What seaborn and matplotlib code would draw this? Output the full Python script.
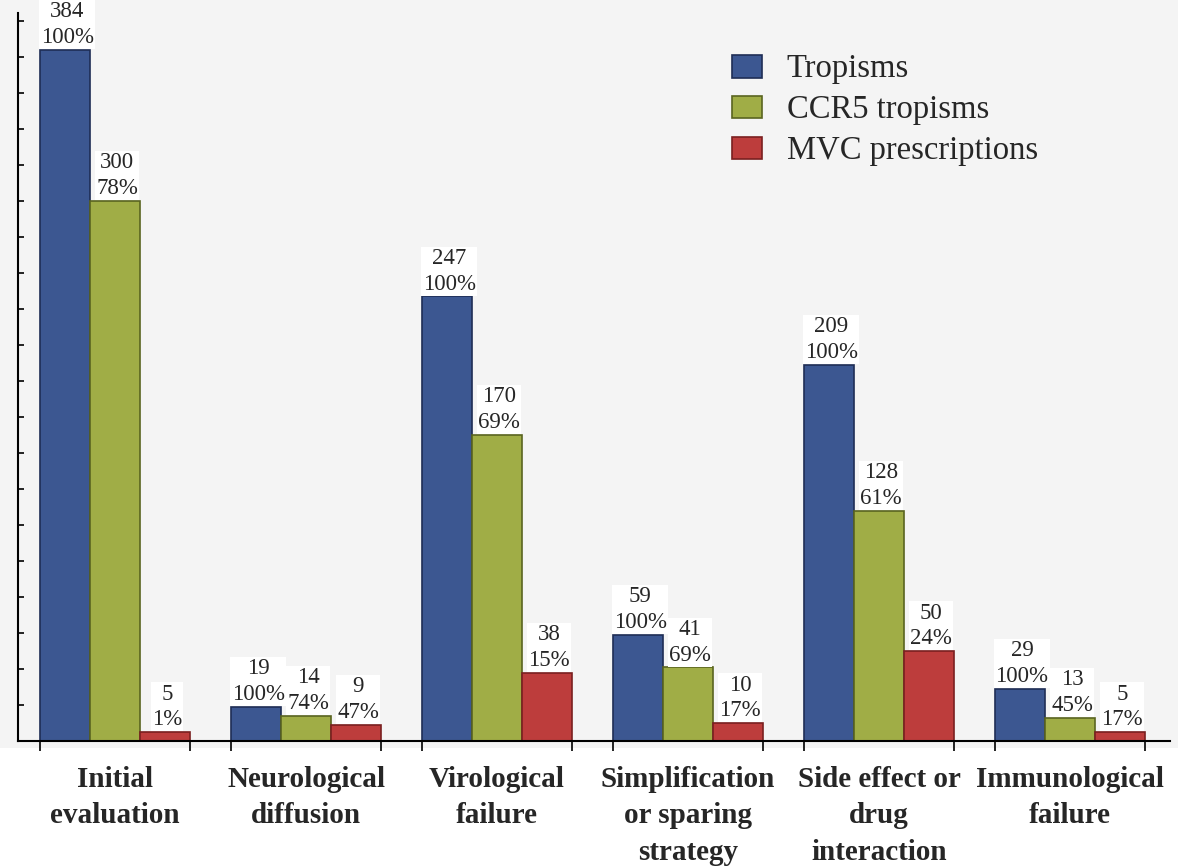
import matplotlib
matplotlib.use("Agg")
import matplotlib.pyplot as plt
import seaborn as sns
import pandas as pd
import numpy as np
from matplotlib.patches import Rectangle, Patch

categories = ["Initial\nevaluation", "Neurological\ndiffusion", "Virological\nfailure",
              "Simplification\nor sparing\nstrategy", "Side effect or\ndrug\ninteraction",
              "Immunological\nfailure"]
series = ["Tropisms", "CCR5 tropisms", "MVC prescriptions"]
tropisms = [384, 19, 247, 59, 209, 29]
ccr5 = [300, 14, 170, 41, 128, 13]
mvc = [5, 9, 38, 10, 50, 5]
pct_tropisms = ["100%", "100%", "100%", "100%", "100%", "100%"]
pct_ccr5 = ["78%", "74%", "69%", "69%", "61%", "45%"]
pct_mvc = ["1%", "47%", "15%", "17%", "24%", "17%"]

colors = ["#3c5791", "#a0ad46", "#bd3d3c"]
edges = ["#1f2d55", "#5a6420", "#7a2020"]

values = [tropisms, ccr5, mvc]
pcts = [pct_tropisms, pct_ccr5, pct_mvc]

rows = []
for s, vals in zip(series, values):
    for c, v in zip(categories, vals):
        rows.append({"category": c, "series": s, "value": v})
df = pd.DataFrame(rows)

sns.set_style("ticks")
plt.rcParams["font.family"] = ["Liberation Serif", "DejaVu Serif"]

W, H = 1181, 868
fig = plt.figure(figsize=(W / 100, H / 100), dpi=100)
fig.patches.append(Rectangle((0, (H - 748) / H), 1178 / W, 748 / H,
                             transform=fig.transFigure, facecolor="#f4f4f4",
                             edgecolor="none", zorder=-10))
ax = fig.add_axes([18 / W, (H - 741) / H, (1170 - 18) / W, (741 - 13) / H])
ax.set_facecolor("none")

sns.barplot(data=df, x="category", y="value", hue="series", order=categories,
            hue_order=series, palette=colors, width=0.785, saturation=1,
            ax=ax, legend=False, errorbar=None)

for k, cont in enumerate(ax.containers):
    for j, bar in enumerate(cont):
        bar.set_edgecolor(edges[k])
        bar.set_linewidth(1.2)
        cx = bar.get_x() + bar.get_width() / 2
        h = bar.get_height()
        ax.annotate(f"{values[k][j]}\n{pcts[k][j]}", xy=(cx, h), xytext=(1.5, 1.2),
                    textcoords="offset points", ha="center", va="bottom",
                    fontsize=16.5, linespacing=1.3,
                    bbox=dict(facecolor="white", edgecolor="none", pad=0.8))

ax.set_xlim(-0.508, 5.524)
ax.set_ylim(0, 404.4)

centers = np.arange(len(categories))
bw = 0.785
ax.set_xticks(centers)
ax.set_xticklabels(categories, fontsize=21, fontweight="bold", linespacing=1.45)
ax.tick_params(axis="x", which="major", length=0, pad=18)
edges_x = np.concatenate([centers - bw / 2, centers + bw / 2])
ax.set_xticks(edges_x, minor=True)
ax.tick_params(axis="x", which="minor", length=7, width=1.2, direction="out", color="black")

ax.set_yticks(np.arange(0, 401, 20))
ax.set_yticklabels([])
ax.tick_params(axis="y", length=4, width=1.2, direction="in", color="black")

ax.set_xlabel("")
ax.set_ylabel("")
for side in ["top", "right"]:
    ax.spines[side].set_visible(False)
for side in ["left", "bottom"]:
    ax.spines[side].set_color("black")
    ax.spines[side].set_linewidth(1.5)

handles = [Patch(facecolor=c, edgecolor=e, linewidth=1.2) for c, e in zip(colors, edges)]
ax.legend(handles=handles, labels=series, loc="upper left",
          bbox_to_anchor=(732 / W, 1 - 54 / H), bbox_transform=fig.transFigure,
          frameon=False, fontsize=23.5, handlelength=0.92, handleheight=0.7,
          handletextpad=0.75, labelspacing=0.32, borderaxespad=0, borderpad=0)

fig.savefig("out.png", dpi=100)
